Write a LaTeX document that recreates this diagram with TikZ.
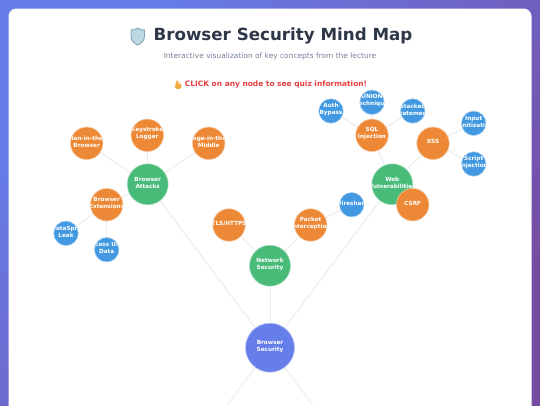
\documentclass[tikz,border=0pt]{standalone}
\usepackage{fontspec}
\setmainfont{DejaVu Sans}
\newfontfamily\emojifont{Noto Emoji}
\definecolor{bgA}{HTML}{667EEA}
\definecolor{bgB}{HTML}{764BA2}
\definecolor{rootc}{HTML}{667EEA}
\definecolor{greenc}{HTML}{48BB78}
\definecolor{orangec}{HTML}{ED8936}
\definecolor{bluec}{HTML}{4299E1}
\definecolor{titlec}{HTML}{2D3748}
\definecolor{subc}{HTML}{718096}
\definecolor{redc}{HTML}{E53E3E}
\definecolor{edgec}{HTML}{EBEBEB}
\definecolor{shieldc}{HTML}{BCD9E2}
\definecolor{shielde}{HTML}{7FA6B5}
\definecolor{handc}{HTML}{F2A93B}
\pgfdeclarelayer{backlayer}
\pgfdeclarelayer{linklayer}
\pgfsetlayers{backlayer,linklayer,main}
\tikzset{
  mapnode/.style={circle,inner sep=0pt,line width=0.6pt,font=\fontsize{5.7}{6.8}\selectfont\bfseries},
  rootnode/.style={mapnode,minimum size=49pt,fill=rootc,draw=rootc!45!white},
  catnode/.style={mapnode,minimum size=41pt,fill=greenc,draw=greenc!45!white},
  topicnode/.style={mapnode,minimum size=32.5pt,fill=orangec,draw=orangec!45!white},
  leafnode/.style={mapnode,minimum size=24.5pt,fill=bluec,draw=bluec!45!white},
  link/.style={draw=edgec,line width=0.9pt},
}
\newcommand{\mapnode}[5]{% name, style, x, y, text
  \node[#2,path picture={\node[text=white,align=center,inner sep=0pt,yshift=1.5pt] (#1text) at (path picture bounding box.center) {#5};}] (#1) at (#3,#4) {};
}
\begin{document}
\begin{tikzpicture}[x=1pt,y=-1pt]
\useasboundingbox (0,0) rectangle (540,405);
\begin{pgfonlayer}{backlayer}
\shade[left color=bgA,right color=bgB,shading angle=45] (0,0) rectangle (540,405);
\fill[white] (8.5,406) -- (8.5,16.5) .. controls (8.5,12) and (12,8.5) .. (16.5,8.5) -- (523.5,8.5) .. controls (528,8.5) and (531.5,12) .. (531.5,16.5) -- (531.5,406) -- cycle;
\end{pgfonlayer}

% heading
\node[font=\fontsize{16.7}{20}\selectfont\bfseries,text=titlec,inner sep=0pt] (title) at (283,36) {Browser Security Mind Map};
\fill[shieldc,draw=shielde,line width=0.9pt] (137.7,28) .. controls (134.5,30) and (133,30) .. (131,30) -- (131,36) .. controls (131,40.5) and (134,43.5) .. (137.7,45) .. controls (141.5,43.5) and (144.5,40.5) .. (144.5,36) -- (144.5,30) .. controls (142.5,30) and (141,30) .. (137.7,28) -- cycle;
\node[font=\fontsize{7.45}{9}\selectfont,text=subc,inner sep=0pt] (subtitle) at (270,56.5) {Interactive visualization of key concepts from the lecture};
\node[font=\fontsize{7.45}{9}\selectfont\bfseries,text=redc,inner sep=0pt] (hint) at (276,84.5) {CLICK on any node to see quiz information!};
\fill[handc,rounded corners=1pt] (176.4,80.5) rectangle (178.4,86);
\fill[handc,rounded corners=1.5pt] (175.2,83.8) rectangle (181.4,88.8);
\node[font=\emojifont\fontsize{8}{9}\selectfont,text=handc,inner sep=0pt] (hand) at (178,84.5) {👆};

% nodes
\mapnode{root}{rootnode}{270}{347.7}{Browser\\Security}
\mapnode{attacks}{catnode}{147.7}{184.3}{Browser\\Attacks}
\mapnode{network}{catnode}{270}{265.7}{Network\\Security}
\mapnode{web}{catnode}{392.3}{184.3}{Web\\Vulnerabilities}
\mapnode{mitb}{topicnode}{86.7}{143.3}{Man-in-the-\\Browser}
\mapnode{keylog}{topicnode}{147.3}{135.3}{Keystroke\\Logger}
\mapnode{pitm}{topicnode}{208.7}{143.3}{Page-in-the-\\Middle}
\mapnode{ext}{topicnode}{106.7}{204.7}{Browser\\Extensions}
\mapnode{spill}{leafnode}{66}{233.3}{DataSpill\\Leak}
\mapnode{access}{leafnode}{106.7}{249.7}{Access User\\Data}
\mapnode{tls}{topicnode}{229}{225}{TLS/HTTPS}
\mapnode{packet}{topicnode}{310.7}{225}{Packet\\Interception}
\mapnode{wire}{leafnode}{351.7}{204.7}{Wireshark}
\mapnode{sql}{topicnode}{372}{135.3}{SQL\\Injection}
\mapnode{auth}{leafnode}{331}{111}{Auth\\Bypass}
\mapnode{union}{leafnode}{372}{102.3}{UNION\\Technique}
\mapnode{stacked}{leafnode}{412.7}{111}{Stacked\\Statement}
\mapnode{xss}{topicnode}{433}{143.3}{XSS}
\mapnode{input}{leafnode}{473.7}{123.3}{Input\\Sanitization}
\mapnode{script}{leafnode}{473.7}{164}{Script\\Injection}
\mapnode{csrf}{topicnode}{412.7}{204.7}{CSRF}

% links, behind the nodes
\coordinate (offleft) at (227.3,405);
\coordinate (offright) at (312.7,405);
\begin{pgfonlayer}{linklayer}
\foreach \a/\b in {root/attacks,root/network,root/web,root/offleft,root/offright,
  attacks/mitb,attacks/keylog,attacks/pitm,attacks/ext,ext/spill,ext/access,
  network/tls,network/packet,packet/wire,web/sql,web/xss,web/csrf,
  sql/auth,sql/union,sql/stacked,xss/input,xss/script}
  \draw[link] (\a) -- (\b);
\end{pgfonlayer}
\end{tikzpicture}
\end{document}
